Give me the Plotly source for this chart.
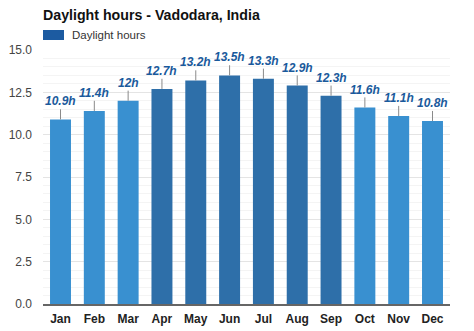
import plotly.graph_objects as go

months = ["Jan", "Feb", "Mar", "Apr", "May", "Jun", "Jul", "Aug", "Sep", "Oct", "Nov", "Dec"]
daylight = [10.9, 11.4, 12.0, 12.7, 13.2, 13.5, 13.3, 12.9, 12.3, 11.6, 11.1, 10.8]
labels = ["10.9h", "11.4h", "12h", "12.7h", "13.2h", "13.5h", "13.3h", "12.9h", "12.3h", "11.6h", "11.1h", "10.8h"]
series_name = "Daylight hours"
title_text = "Daylight hours - Vadodara, India"

LIGHT = "#3990d0"
DARK = "#2e6fa9"
bar_colors = [DARK if v >= 12.2 else LIGHT for v in daylight]
FONT = "Liberation Sans, Arial"

fig = go.Figure()
fig.add_trace(go.Bar(
    x=months, y=daylight, name=series_name,
    marker=dict(color=bar_colors, line=dict(width=0)),
    error_y=dict(type="constant", value=0.6, symmetric=False, valueminus=0,
                 color="#8a8a8a", thickness=1, width=0),
    showlegend=False, hoverinfo="skip",
))

for m, v, t in zip(months, daylight, labels):
    fig.add_annotation(x=m, y=v, text=f"<b><i>{t}</i></b>", showarrow=False,
                       yanchor="bottom", yshift=9,
                       font=dict(family=FONT, size=12, color="#1a5a9c"))

# legend: swatch + label
fig.add_shape(type="rect", xref="paper", yref="paper",
              x0=0, x1=21 / 407, y0=1 + 10 / 254, y1=1 + 20 / 254,
              fillcolor="#1c5ba1", line=dict(width=0))
fig.add_annotation(xref="paper", yref="paper", x=27 / 407, y=1 + 15 / 254,
                   text=series_name, showarrow=False, xanchor="left", yanchor="middle",
                   font=dict(family=FONT, size=11.5, color="#333"))

fig.update_layout(
    width=474, height=331,
    margin=dict(l=43, r=24, t=50, b=27, autoexpand=False),
    paper_bgcolor="white", plot_bgcolor="white",
    bargap=0.38, showlegend=False,
    title=dict(text=f"<b>{title_text}</b>", x=43 / 474, xanchor="left",
               xref="container", yref="container", y=1 - 15 / 331, yanchor="middle",
               font=dict(family=FONT, size=14.2, color="#111")),
    font=dict(family=FONT),
)
fig.update_xaxes(
    showline=True, linecolor="#666", linewidth=1.5,
    tickfont=dict(size=12, color="#222", family=FONT),
    ticks="", showgrid=False, tickprefix="<b>", ticksuffix="</b>",
    ticklabelstandoff=3,
)
fig.update_yaxes(
    range=[0, 15], dtick=2.5, tickformat=".1f",
    showgrid=True, gridcolor="#e4e4e4", gridwidth=1,
    minor=dict(dtick=0.5, showgrid=True, gridcolor="#f4f4f4", gridwidth=1),
    tickfont=dict(size=12, color="#444", family=FONT),
    zeroline=False, ticks="", ticklabelstandoff=10,
)

fig.write_html("out.html")
